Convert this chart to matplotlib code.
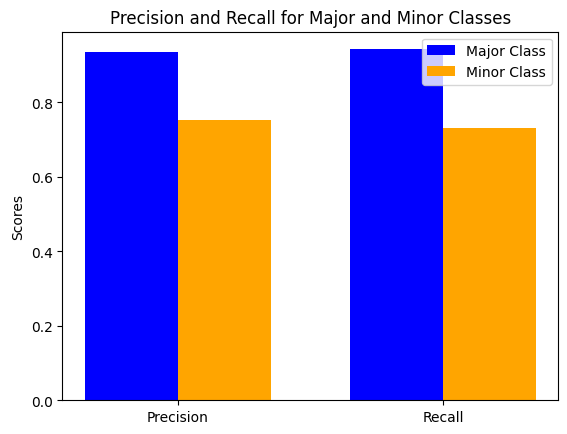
import matplotlib
matplotlib.use("Agg")
import matplotlib.pyplot as plt
import numpy as np

categories = ["Precision", "Recall"]
major = [0.934, 0.942]
minor = [0.752, 0.730]

x = np.arange(len(categories))
w = 0.35
fig, ax = plt.subplots(figsize=(5.67, 4.35), dpi=100)
ax.bar(x - w/2, major, w, label="Major Class", color="blue")
ax.bar(x + w/2, minor, w, label="Minor Class", color="orange")
ax.set_xticks(x)
ax.set_xticklabels(categories)
ax.set_ylabel("Scores")
ax.set_title("Precision and Recall for Major and Minor Classes")
ax.legend(loc="upper right")
fig.subplots_adjust(left=0.11, right=0.985, top=0.925, bottom=0.078)
fig.savefig("out.png")
